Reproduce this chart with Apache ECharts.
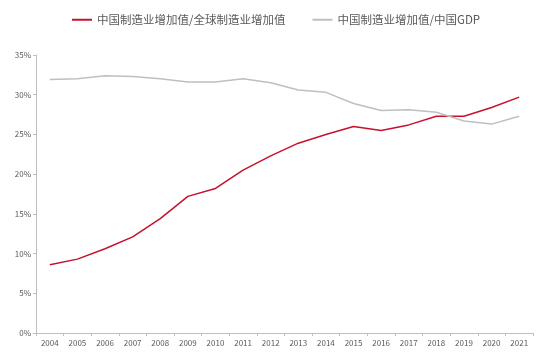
<!DOCTYPE html>
<html>
<head>
<meta charset="utf-8">
<script src="https://cdn.jsdelivr.net/npm/echarts@6/dist/echarts.min.js"></script>
<style>
  html, body { margin: 0; padding: 0; background: #fff; }
  #chart { width: 550px; height: 354px; }
</style>
</head>
<body>
<div id="chart"></div>
<script>
// 年份
var years = ['2004','2005','2006','2007','2008','2009','2010','2011','2012','2013','2014','2015','2016','2017','2018','2019','2020','2021'];
// 中国制造业增加值/全球制造业增加值 (%)
var globalShare = [8.6, 9.3, 10.6, 12.1, 14.4, 17.2, 18.2, 20.5, 22.3, 23.9, 25.0, 26.0, 25.5, 26.2, 27.3, 27.3, 28.4, 29.7];
// 中国制造业增加值/中国GDP (%)
var gdpShare = [31.9, 32.0, 32.4, 32.3, 32.0, 31.6, 31.6, 32.0, 31.5, 30.6, 30.3, 28.9, 28.0, 28.1, 27.8, 26.7, 26.3, 27.3];
var seriesNames = ['中国制造业增加值/全球制造业增加值', '中国制造业增加值/中国GDP'];

var myChart = echarts.init(document.getElementById('chart'));

var option = {
    animation: false,
    textStyle: { fontFamily: '"Noto Sans CJK SC", "Noto Sans", sans-serif' },
    legend: {
        data: seriesNames,
        top: 9,
        left: 67,
        itemWidth: 20,
        itemHeight: 2,
        itemGap: 27,
        icon: 'rect',
        textStyle: { color: '#595959', fontSize: 11.5 }
    },
    grid: {
        left: 36,
        right: 17,
        top: 55,
        bottom: 21
    },
    xAxis: {
        type: 'category',
        data: years,
        boundaryGap: true,
        axisLine: { lineStyle: { color: '#bfbfbf', width: 1 } },
        axisTick: { show: true, alignWithLabel: false, length: 3, lineStyle: { color: '#bfbfbf' } },
        axisLabel: { color: '#595959', fontSize: 8, margin: 6 },
        splitLine: { show: false }
    },
    yAxis: {
        type: 'value',
        min: 0,
        max: 35,
        interval: 5,
        axisLine: { show: true, lineStyle: { color: '#bfbfbf', width: 1 } },
        axisTick: { show: true, length: 3, lineStyle: { color: '#bfbfbf' } },
        axisLabel: { color: '#595959', fontSize: 8, margin: 5, formatter: '{value}%' },
        splitLine: { show: false }
    },
    series: [
        {
            name: seriesNames[0],
            type: 'line',
            data: globalShare,
            symbol: 'none',
            color: '#c8102e',
            lineStyle: { width: 1.5, color: '#c8102e' }
        },
        {
            name: seriesNames[1],
            type: 'line',
            data: gdpShare,
            symbol: 'none',
            color: '#bfbfbf',
            lineStyle: { width: 1.5, color: '#bfbfbf' }
        }
    ]
};

myChart.setOption(option);
</script>
</body>
</html>
